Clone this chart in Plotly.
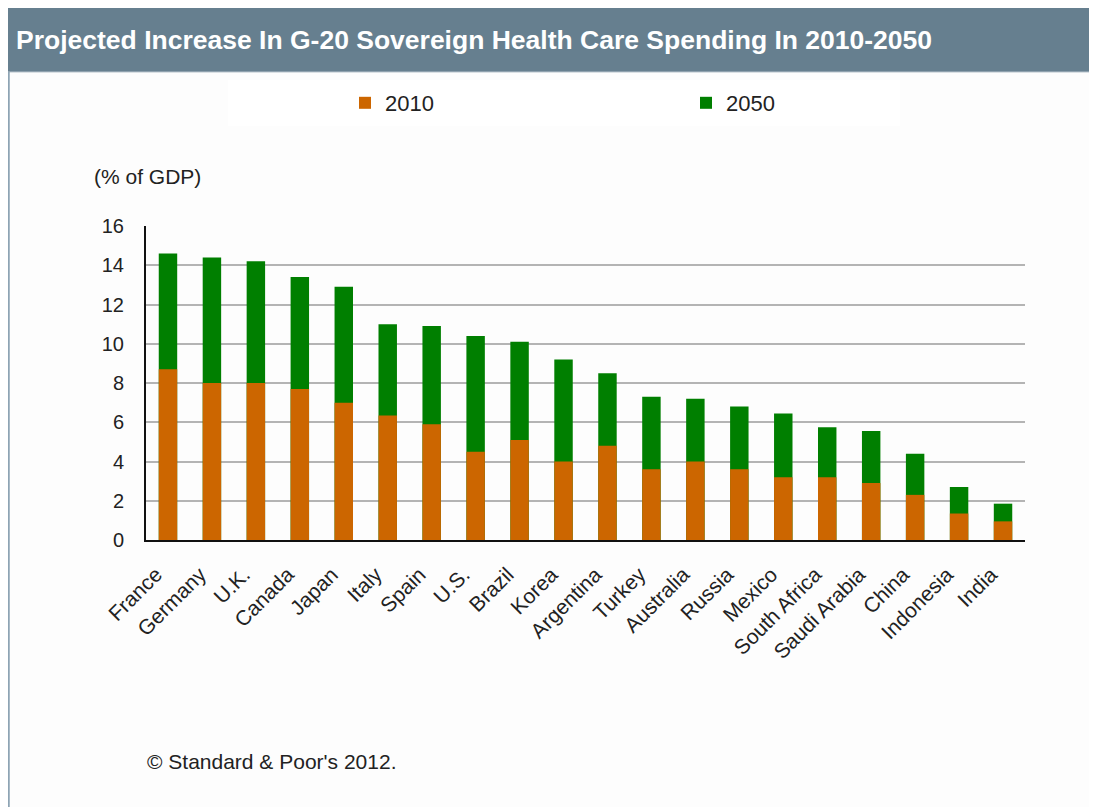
import plotly.graph_objects as go

countries = ["France", "Germany", "U.K.", "Canada", "Japan", "Italy", "Spain", "U.S.",
             "Brazil", "Korea", "Argentina", "Turkey", "Australia", "Russia", "Mexico",
             "South Africa", "Saudi Arabia", "China", "Indonesia", "India"]
spend_2010 = [8.7, 8.0, 8.0, 7.7, 7.0, 6.35, 5.9, 4.5, 5.1, 4.0, 4.8, 3.6, 4.0, 3.6, 3.2,
              3.2, 2.9, 2.3, 1.35, 0.95]
spend_2050 = [14.6, 14.4, 14.2, 13.4, 12.9, 11.0, 10.9, 10.4, 10.1, 9.2, 8.5, 7.3, 7.2, 6.8,
              6.45, 5.75, 5.55, 4.4, 2.7, 1.85]
y_ticks = [0, 2, 4, 6, 8, 10, 12, 14, 16]

# page body has an 8px default margin; work in reference pixel coordinates
OFF = 8
PAGE_W, PAGE_H = 1097, 807
W, H = PAGE_W - OFF, PAGE_H - OFF
L, R, T, B = 146, 1025, 226, 540  # plot area in page pixels

def px(x):
    return (x - L) / (R - L)

def py(y):
    return (B - y) / (B - T)

FONT = "Liberation Sans, Arial, sans-serif"

fig = go.Figure()
fig.add_trace(go.Bar(x=countries, y=spend_2050, name="2050", marker=dict(color="#007f00", line=dict(width=0)),
                     width=0.42, legendrank=2))
fig.add_trace(go.Bar(x=countries, y=spend_2010, name="2010", marker=dict(color="#cc6600", line=dict(width=0)),
                     width=0.42, legendrank=1))

shapes = [
    dict(type="rect", xref="paper", yref="paper", x0=px(7), x1=px(1110), y0=py(7), y1=py(72),
         fillcolor="#667f8f", line=dict(color="#b8c4cc", width=1), layer="below"),
    dict(type="line", xref="paper", yref="paper", x0=px(8.5), x1=px(8.5), y0=py(72), y1=py(820),
         line=dict(color="#8ea4b4", width=2.5)),
    dict(type="rect", xref="paper", yref="paper", x0=px(228), x1=px(900), y0=py(80), y1=py(126),
         fillcolor="#ffffff", line=dict(width=0), layer="below"),
]

annotations = [
    dict(text="<b>Projected Increase In G-20 Sovereign Health Care Spending In 2010-2050</b>",
         xref="paper", yref="paper", x=px(14), y=py(40), xanchor="left", yanchor="middle",
         showarrow=False, font=dict(family=FONT, size=26.5, color="white")),
    dict(text="(% of GDP)", xref="paper", yref="paper", x=px(92), y=py(176), xanchor="left", yanchor="middle",
         showarrow=False, font=dict(family=FONT, size=21, color="#222222")),
    dict(text="© Standard & Poor's 2012.", xref="paper", yref="paper", x=px(145), y=py(761), xanchor="left",
         yanchor="middle", showarrow=False, font=dict(family=FONT, size=21, color="#222222")),
]

fig.update_layout(
    width=W, height=H,
    margin=dict(l=L - OFF, r=PAGE_W - R, t=T - OFF, b=PAGE_H - B, pad=0),
    paper_bgcolor="#fdfdfd", plot_bgcolor="#fdfdfd",
    barmode="overlay",
    font=dict(family=FONT, color="#222222"),
    showlegend=True,
    legend=dict(orientation="h", x=px(345), y=py(103), xanchor="left", yanchor="middle",
                bgcolor="rgba(0,0,0,0)", font=dict(family=FONT, size=22, color="#222222"),
                entrywidth=296, entrywidthmode="pixels", traceorder="normal"),
    xaxis=dict(range=[-0.5, len(countries) - 0.5], showline=True, linecolor="#111111", linewidth=2,
               tickangle=-45, tickfont=dict(family=FONT, size=21, color="#222222"), showgrid=False,
               ticks="", ticklabelshift=-12, ticklabelstandoff=12, fixedrange=True),
    yaxis=dict(range=[0, 16], tickvals=y_ticks, showline=True, linecolor="#111111", linewidth=2,
               showgrid=True, gridcolor="#b4b4b4", gridwidth=1.5, zeroline=False,
               tickfont=dict(family=FONT, size=20, color="#222222"), ticks="", ticklabelstandoff=16,
               fixedrange=True),
    shapes=shapes, annotations=annotations,
)

fig.write_html("out.html")
